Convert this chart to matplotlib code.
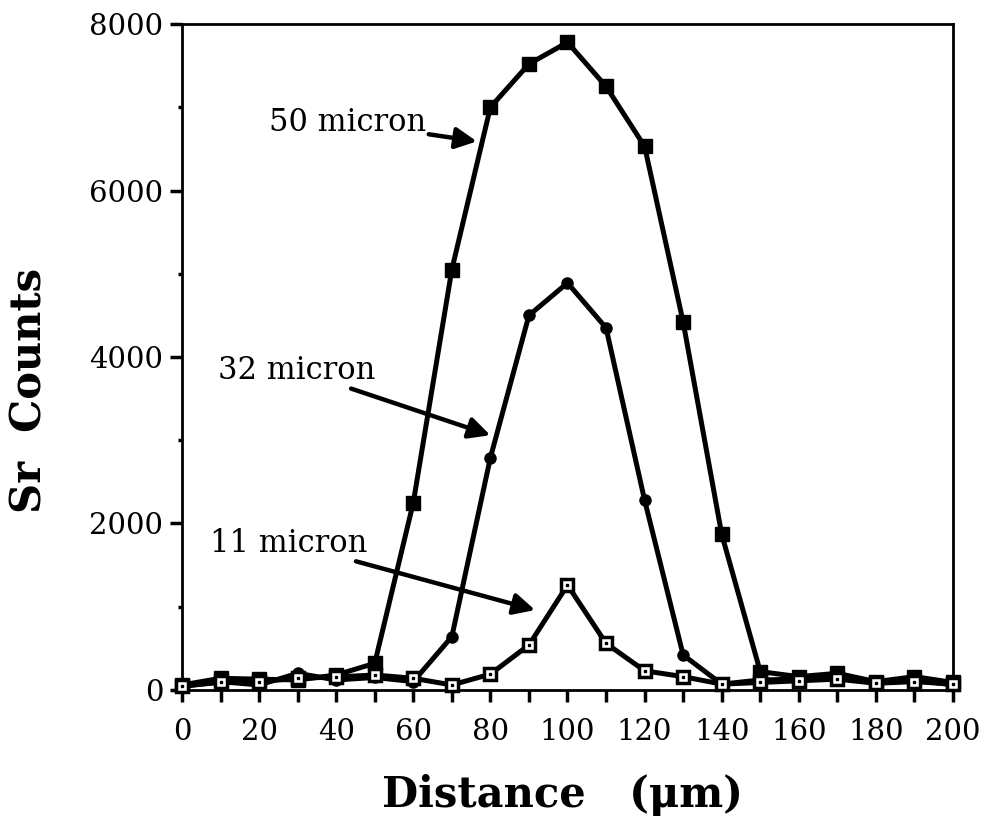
import numpy as np
import matplotlib.pyplot as plt

plt.rcParams['font.family'] = ['DejaVu Serif']

# Sr line scans across the beam for three spot sizes
distance = np.arange(0, 201, 10)
sr_50 = [60, 140, 130, 120, 180, 320, 2250, 5050, 7000, 7520, 7780,
         7250, 6530, 4420, 1870, 220, 160, 200, 100, 160, 90]
sr_32 = [40, 100, 60, 200, 120, 150, 100, 640, 2790, 4500, 4890,
         4350, 2280, 420, 70, 120, 130, 170, 90, 120, 60]
sr_11 = [50, 90, 100, 140, 156, 180, 140, 60, 190, 540, 1260,
         560, 230, 160, 70, 90, 110, 130, 80, 100, 70]

fig = plt.figure(figsize=(9.82, 8.17), dpi=100)
ax = fig.add_axes([0.1853, 0.1555, 0.7852, 0.8151])

lw = 3.6
ax.plot(distance, sr_50, color='black', lw=lw, marker='s', ms=10,
        mfc='black', mec='black', clip_on=False, zorder=3)
ax.plot(distance, sr_32, color='black', lw=lw, marker='o', ms=8,
        mfc='black', mec='black', clip_on=False, zorder=4)
ax.plot(distance, sr_11, color='black', lw=lw, marker='s', ms=8,
        mfc='white', mec='black', mew=2.5, clip_on=False, zorder=5)
ax.plot(distance, sr_11, ls='none', marker='s', ms=2, color='black',
        clip_on=False, zorder=6)

ax.set_xlim(0, 200)
ax.set_ylim(0, 8000)
ax.set_xticks(np.arange(0, 201, 20))
ax.set_xticks(np.arange(0, 201, 10), minor=True)
ax.set_yticks(np.arange(0, 8001, 2000))
ax.set_yticks(np.arange(0, 8001, 1000), minor=True)

for s in ax.spines.values():
    s.set_linewidth(2)
ax.tick_params(which='major', direction='out', length=8.5, width=2.5,
               labelsize=21)
ax.tick_params(axis='x', which='major', pad=12)
ax.tick_params(axis='y', which='major', pad=5)
ax.tick_params(axis='x', which='minor', direction='out', length=8.5, width=2.5)
ax.tick_params(axis='y', which='minor', direction='out', length=3, width=2.5)

fig.text(0.5725, 1 - 807 / 817, 'Distance   (\u03bcm)', fontsize=30,
         fontweight='bold', ha='center', va='baseline')
fig.text(30 / 982, 1 - 390 / 817, 'Sr  Counts', fontsize=30,
         fontweight='bold', ha='center', va='center', rotation=90)

arrow = dict(arrowstyle='-|>', lw=3.2, color='black', mutation_scale=32,
             shrinkA=0, shrinkB=0)
ax.annotate('50 micron', xy=(76.5, 6590), xytext=(22.5, 6820),
            fontsize=22, va='center', ha='left', arrowprops=arrow)
ax.annotate('32 micron', xy=(80, 3060), xytext=(9.3, 3840),
            fontsize=22, va='center', ha='left', arrowprops=arrow)
ax.annotate('11 micron', xy=(91.6, 960), xytext=(7.3, 1765),
            fontsize=22, va='center', ha='left', arrowprops=arrow)

fig.savefig('out.png', dpi=100)
